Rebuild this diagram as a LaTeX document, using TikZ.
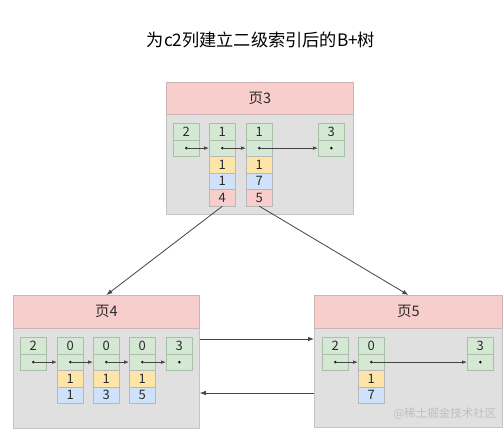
\documentclass[tikz,border=0pt]{standalone}
\usepackage{fontspec}
\setmainfont{Noto Sans CJK SC}
\usetikzlibrary{arrows.meta}
\definecolor{hdrfill}{HTML}{F8CECC}
\definecolor{hdrdraw}{HTML}{CDB3B3}
\definecolor{bodyfill}{HTML}{E0E0E0}
\definecolor{bodydraw}{HTML}{C4C4C4}
\definecolor{grn}{HTML}{D5E8D4}
\definecolor{grndraw}{HTML}{A9BFA8}
\definecolor{ylw}{HTML}{FCE5A6}
\definecolor{blu}{HTML}{CFE2FA}
\definecolor{pnk}{HTML}{F8CECC}
\definecolor{celldraw}{HTML}{B8B8B8}
\definecolor{linec}{HTML}{444444}
\definecolor{txtc}{HTML}{2A2A2A}
\tikzset{
  pagebox/.style={draw=bodydraw,fill=bodyfill,anchor=north west,inner sep=0,line width=0.8pt},
  hdrbox/.style={draw=hdrdraw,fill=hdrfill,anchor=north west,inner sep=0,line width=0.8pt,font=\fontsize{14.5}{16}\selectfont,text=txtc},
  cellbox/.style={draw=celldraw,anchor=north west,inner sep=0,minimum width=26pt,minimum height=16.5pt,line width=0.7pt,font=\fontsize{13}{14}\selectfont,text=txtc},
  gcell/.style={cellbox,fill=grn,draw=grndraw},
  ycell/.style={cellbox,fill=ylw},
  bcell/.style={cellbox,fill=blu},
  pcell/.style={cellbox,fill=pnk},
  dotc/.style={circle,fill=black,inner sep=0,minimum size=2.8pt},
  link/.style={draw=linec,line width=0.7pt,-{Latex[length=5pt,width=3.6pt]}},
  bigarrow/.style={draw=linec,line width=0.8pt,-{Latex[length=6pt,width=4.5pt]}}
}
\begin{document}
\begin{tikzpicture}[x=1pt,y=-1pt]
\useasboundingbox[fill=white] (0,0) rectangle (504,432);
% title
\node[font=\fontsize{17.2}{19}\selectfont,text=black] (title) at (261,40) {为c2列建立二级索引后的B+树};

% ---------- page 3 ----------
\node[pagebox,minimum width=187pt,minimum height=132pt] (p3) at (166,82) {};
\node[hdrbox,minimum width=187pt,minimum height=32pt] (p3h) at (166,82) {页3};
% col 1
\node[gcell] (p3a1) at (173,123) {2};
\node[gcell] (p3a2) at (173,139.5) {};
% col 2
\node[gcell] (p3b1) at (209,123) {1};
\node[gcell] (p3b2) at (209,139.5) {};
\node[ycell] (p3b3) at (209,156) {1};
\node[bcell] (p3b4) at (209,172.5) {1};
\node[pcell] (p3b5) at (209,189) {4};
% col 3
\node[gcell] (p3c1) at (246,123) {1};
\node[gcell] (p3c2) at (246,139.5) {};
\node[ycell] (p3c3) at (246,156) {1};
\node[bcell] (p3c4) at (246,172.5) {7};
\node[pcell] (p3c5) at (246,189) {5};
% col 4
\node[gcell] (p3d1) at (318,123) {3};
\node[gcell] (p3d2) at (318,139.5) {};
\foreach \n in {p3a2,p3b2,p3c2,p3d2} \node[dotc] (\n d) at (\n.center) {};
\draw[link] (p3a2d.center) -- (p3b2.west);
\draw[link] (p3b2d.center) -- (p3c2.west);
\draw[link] (p3c2d.center) -- (p3d2.west);

% ---------- page 4 ----------
\node[pagebox,minimum width=186pt,minimum height=133pt] (p4) at (13,295) {};
\node[hdrbox,minimum width=186pt,minimum height=33pt] (p4h) at (13,295) {页4};
\node[gcell] (p4a1) at (20,337) {2};
\node[gcell] (p4a2) at (20,353.5) {};
\node[gcell] (p4b1) at (57,337) {0};
\node[gcell] (p4b2) at (57,353.5) {};
\node[ycell] (p4b3) at (57,370) {1};
\node[bcell] (p4b4) at (57,386.5) {1};
\node[gcell] (p4c1) at (93,337) {0};
\node[gcell] (p4c2) at (93,353.5) {};
\node[ycell] (p4c3) at (93,370) {1};
\node[bcell] (p4c4) at (93,386.5) {3};
\node[gcell] (p4d1) at (129,337) {0};
\node[gcell] (p4d2) at (129,353.5) {};
\node[ycell] (p4d3) at (129,370) {1};
\node[bcell] (p4d4) at (129,386.5) {5};
\node[gcell] (p4e1) at (166,337) {3};
\node[gcell] (p4e2) at (166,353.5) {};
\foreach \n in {p4a2,p4b2,p4c2,p4d2,p4e2} \node[dotc] (\n d) at (\n.center) {};
\draw[link] (p4a2d.center) -- (p4b2.west);
\draw[link] (p4b2d.center) -- (p4c2.west);
\draw[link] (p4c2d.center) -- (p4d2.west);
\draw[link] (p4d2d.center) -- (p4e2.west);

% ---------- page 5 ----------
\node[pagebox,minimum width=188pt,minimum height=132pt] (p5) at (314,295) {};
\node[hdrbox,minimum width=188pt,minimum height=33pt] (p5h) at (314,295) {页5};
\node[gcell] (p5a1) at (322,337) {2};
\node[gcell] (p5a2) at (322,353.5) {};
\node[gcell] (p5b1) at (358,337) {0};
\node[gcell] (p5b2) at (358,353.5) {};
\node[ycell] (p5b3) at (358,370) {1};
\node[bcell] (p5b4) at (358,386.5) {7};
\node[gcell] (p5c1) at (467,337) {3};
\node[gcell] (p5c2) at (467,353.5) {};
\foreach \n in {p5a2,p5b2,p5c2} \node[dotc] (\n d) at (\n.center) {};
\draw[link] (p5a2d.center) -- (p5b2.west);
\draw[link] (p5b2d.center) -- (p5c2.west);
\node[text=black!25,font=\fontsize{11.5}{13}\selectfont] (wm) at (445,414) {@稀土掘金技术社区};

% ---------- connectors between pages ----------
\draw[bigarrow] (p3b5.south) -- (p4h.north);
\draw[bigarrow] (p3c5.south) -- (p5h.north);
\coordinate (r1) at (0,339);
\coordinate (r2) at (0,393);
\draw[bigarrow] (p4.east |- r1) -- (p5.west |- r1);
\draw[bigarrow] (p5.west |- r2) -- (p4.east |- r2);
\end{tikzpicture}
\end{document}
